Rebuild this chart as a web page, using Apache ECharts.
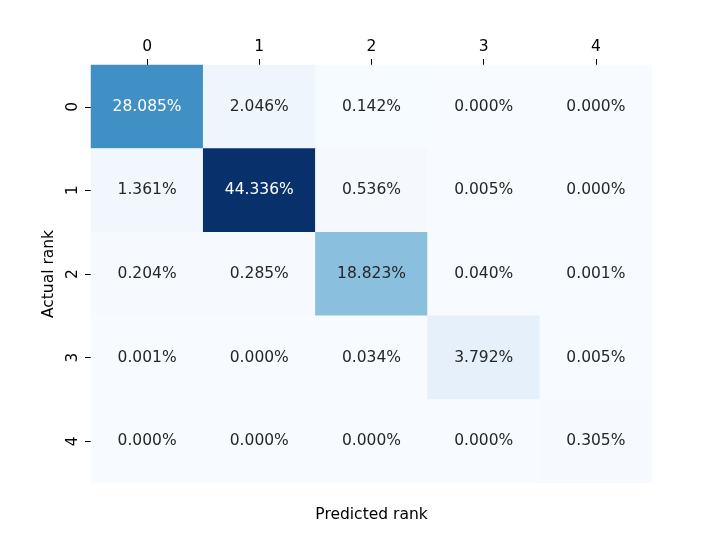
<!DOCTYPE html>
<html>
<head>
<meta charset="utf-8">
<script src="https://cdn.jsdelivr.net/npm/echarts@6/dist/echarts.min.js"></script>
<style>
    html, body { margin: 0; padding: 0; background: #fff; }
    #chart { width: 725px; height: 543px; }
</style>
</head>
<body>
<div id="chart"></div>
<script>
// 标签
var predicted = ['0', '1', '2', '3', '4'];
var actual = ['0', '1', '2', '3', '4'];
// 每一行是实际等级，每一列是预测等级（百分比）
var row0 = [28.085, 2.046, 0.142, 0.000, 0.000];
var row1 = [1.361, 44.336, 0.536, 0.005, 0.000];
var row2 = [0.204, 0.285, 18.823, 0.040, 0.001];
var row3 = [0.001, 0.000, 0.034, 3.792, 0.005];
var row4 = [0.000, 0.000, 0.000, 0.000, 0.305];
var rows = [row0, row1, row2, row3, row4];

var blues = ['#f7fbff', '#deebf7', '#c6dbef', '#9ecae1', '#6baed6',
             '#4292c6', '#2171b5', '#08519c', '#08306b'];

var all = [].concat.apply([], rows);
var vmin = Math.min.apply(null, all);
var vmax = Math.max.apply(null, all);

var data = [];
rows.forEach(function (r, i) {
    r.forEach(function (v, j) {
        data.push({
            value: [j, i, v],
            label: { color: (v - vmin) / (vmax - vmin) > 0.5 ? '#ffffff' : '#262626' }
        });
    });
});

var font = 'DejaVu Sans';
var fs = 15.5;
var myChart = echarts.init(document.getElementById('chart'));
var option = {
    animation: false,
    textStyle: { fontFamily: font },
    grid: { left: 91, right: 73, top: 65, bottom: 60 },
    xAxis: [{
        type: 'category',
        position: 'top',
        data: predicted,
        axisLine: { show: false },
        axisTick: { show: true, alignWithLabel: true, length: 6, lineStyle: { color: '#000', width: 1 } },
        axisLabel: { color: '#000', fontSize: fs, fontFamily: font, margin: 10 },
        splitLine: { show: false }
    }, {
        type: 'category',
        position: 'bottom',
        data: predicted,
        name: 'Predicted rank',
        nameLocation: 'middle',
        nameGap: 24,
        nameTextStyle: { color: '#000', fontSize: fs, fontFamily: font },
        axisLine: { show: false },
        axisTick: { show: false },
        axisLabel: { show: false }
    }],
    yAxis: {
        type: 'category',
        data: actual,
        inverse: true,
        name: 'Actual rank',
        nameLocation: 'middle',
        nameGap: 30,
        nameRotate: 90,
        nameTextStyle: { color: '#000', fontSize: fs, fontFamily: font },
        axisLine: { show: false },
        axisTick: { show: true, alignWithLabel: true, length: 6, lineStyle: { color: '#000', width: 1 } },
        axisLabel: { color: '#000', fontSize: fs, fontFamily: font, rotate: 90, margin: 10 },
        splitLine: { show: false }
    },
    visualMap: {
        show: false,
        min: vmin,
        max: vmax,
        dimension: 2,
        inRange: { color: blues }
    },
    series: [{
        type: 'heatmap',
        data: data,
        label: {
            show: true,
            fontSize: fs,
            fontFamily: font,
            formatter: function (p) { return p.value[2].toFixed(3) + '%'; }
        },
        itemStyle: { borderWidth: 0 },
        emphasis: { disabled: true }
    }]
};
myChart.setOption(option);
</script>
</body>
</html>
